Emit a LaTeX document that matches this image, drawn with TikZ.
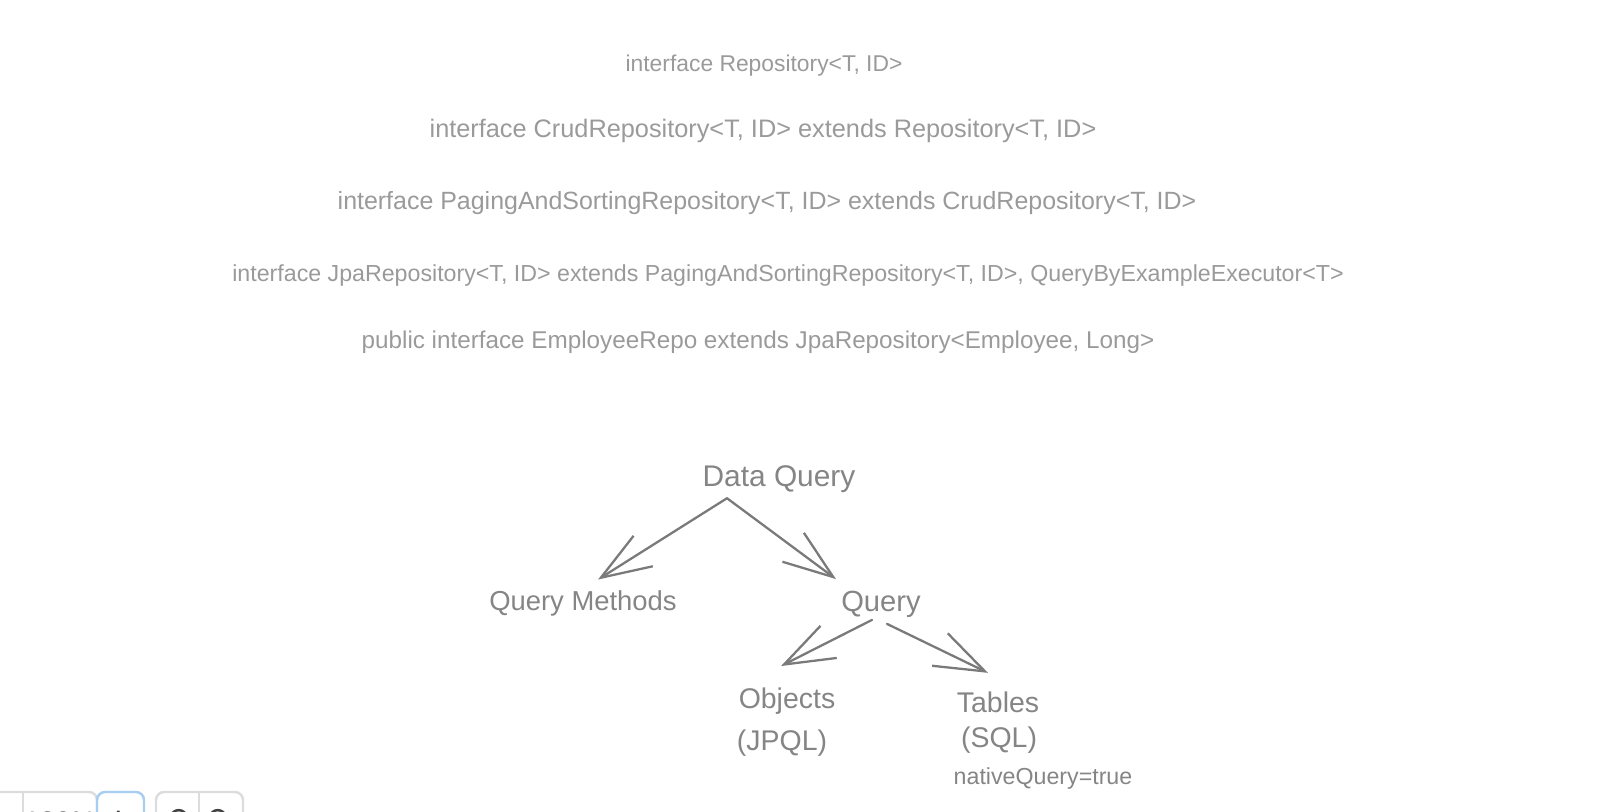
\documentclass[tikz,border=0pt]{standalone}
\usepackage{fontspec}
\setmainfont{Liberation Sans}
\newfontfamily\symfont{DejaVu Sans}
\usepackage{xcolor}
\usetikzlibrary{arrows.meta,positioning,calc}
\definecolor{codegray}{HTML}{9A9A9A}
\definecolor{inkgray}{HTML}{858585}
\definecolor{linegray}{HTML}{7A7A7A}
\definecolor{uiborder}{HTML}{DCDCDC}
\definecolor{uiblue}{HTML}{A8CDF2}

\begin{document}
\begin{tikzpicture}[
	codeline/.style={text=codegray, inner sep=0pt, font=\fontsize{#1}{#1}\selectfont},
	label/.style={text=inkgray, inner sep=0pt, font=\fontsize{#1}{#1}\selectfont},
	arrow/.style={-{Straight Barb[length=5mm,width=3.6mm]}, draw=linegray, line width=0.65pt, line cap=round, line join=round},
	uibox/.style={draw=#1, rounded corners=0.8mm, line width=0.7pt}
	]
	\useasboundingbox (0,0) rectangle (16,-8.12);
	
	% the interface chain
	\node[codeline=6.5] (repo) at (7.64,-0.66) {interface Repository<T, ID>};
	\node[codeline=7.2] (crud) at (7.63,-1.31) {interface CrudRepository<T, ID> extends Repository<T, ID>};
	\node[codeline=7.1] (paging) at (7.67,-2.03) {interface PagingAndSortingRepository<T, ID> extends CrudRepository<T, ID>};
	\node[codeline=6.6] (jpa) at (7.88,-2.76) {interface JpaRepository<T, ID> extends PagingAndSortingRepository<T, ID>, QueryByExampleExecutor<T>};
	\node[codeline=6.9] (emp) at (7.58,-3.42) {public interface EmployeeRepo extends JpaRepository<Employee, Long>};
	
	% query tree
	\node[label=8.5] (dq) at (7.79,-4.79) {Data Query};
	\node[label=7.8] (qm) at (5.83,-6.03) {Query Methods};
	\node[label=8.3] (qry) at (8.81,-6.04) {Query};
	\node[label=8.1] (obj) at (7.87,-7.01) {Objects};
	\node[label=8.1] (jpql) at (7.82,-7.43) {(JPQL)};
	\node[label=8.1] (tables) at (9.98,-7.02) {Tables};
	\node[label=8.1] (sql) at (9.99,-7.40) {(SQL)};
	\node[label=6.6] (native) at (10.43,-7.79) {nativeQuery=true};
	
	\draw[arrow] ($(dq.south)+(-0.52,-0.05)$) -- ($(qm.north)+(0.15,0.10)$);
	\draw[arrow] ($(dq.south)+(-0.52,-0.05)$) -- ($(qry.north)+(-0.45,0.11)$);
	\draw[arrow] ($(qry.south)+(-0.09,-0.02)$) -- ($(obj.north)+(-0.06,0.21)$);
	\draw[arrow] ($(qry.south)+(0.06,-0.06)$) -- ($(tables.north)+(-0.10,0.18)$);
	
	% editor controls, cut off by the page edge
	\begin{scope}
		\clip (0,0) rectangle (16,-8.12);
		\draw[uibox=uiborder] (-0.3,-7.92) rectangle (0.97,-8.5);
		\draw[uiborder, line width=0.7pt] (0.23,-7.92) -- (0.23,-8.5);
		\node[text=black!75, font=\fontsize{8}{8}\selectfont] (zoomlvl) at (0.60,-8.22) {120\%};
		\draw[uibox=uiblue] (0.97,-7.92) rectangle (1.44,-8.5);
		\node[text=black!75, font=\fontsize{11}{11}\selectfont] (plus) at (1.19,-8.22) {+};
		\draw[uibox=uiborder] (1.56,-7.92) rectangle (2.43,-8.5);
		\draw[uiborder, line width=0.7pt] (1.99,-7.92) -- (1.99,-8.5);
		\node[text=black!75, font=\symfont\fontsize{9}{9}\selectfont] (undo) at (1.77,-8.2) {↶};
		\node[text=black!75, font=\symfont\fontsize{9}{9}\selectfont] (redo) at (2.21,-8.2) {↷};
	\end{scope}
	
\end{tikzpicture}
\end{document}
